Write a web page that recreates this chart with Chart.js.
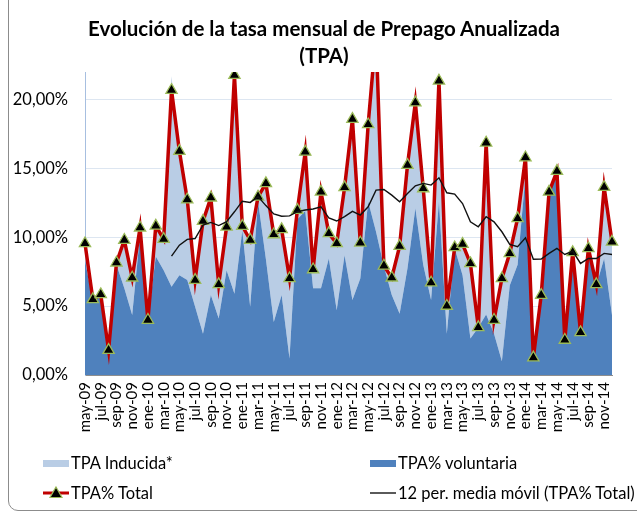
<!DOCTYPE html>
<html>
<head>
<meta charset="utf-8">
<script src="https://cdn.jsdelivr.net/npm/chart.js@4/dist/chart.umd.min.js"></script>
<style>
  html, body { margin:0; padding:0; background:#fff; }
  #wrap { position:relative; width:637px; height:516px; overflow:hidden; background:#fff; }
  #frame { position:absolute; left:8px; top:-20px; width:700px; height:531px; border:1px solid #8c8c8c; border-radius:10px; box-sizing:border-box; }
  #c { position:absolute; left:0; top:0; }
  #title { position:absolute; left:0; top:15px; width:648px; text-align:center; font-family:Lato, "Open Sans", sans-serif; font-weight:bold; font-size:20.5px; line-height:27px; color:#000; }
  .leg { position:absolute; font-family:Lato, "Open Sans", sans-serif; font-size:16.5px; color:#000; line-height:20px; white-space:nowrap; }
  .box { position:absolute; width:26px; height:7px; }
</style>
</head>
<body>
<div id="wrap">
  <div id="frame"></div>
  <canvas id="c" width="637" height="516"></canvas>
  <div id="title">Evolución de la tasa mensual de Prepago Anualizada<br>(TPA)</div>

  <div class="box" style="left:43px;top:460px;background:#B9CDE5;"></div>
  <div class="leg" style="left:71px;top:453px;">TPA Inducida*</div>
  <div class="box" style="left:370px;top:460px;background:#4F81BD;"></div>
  <div class="leg" style="left:398px;top:453px;">TPA% voluntaria</div>

  <svg style="position:absolute;left:41px;top:484px;" width="30" height="18">
    <line x1="2" y1="9" x2="28" y2="9" stroke="#C00000" stroke-width="3"/>
    <polygon points="15,3 21,13.5 9,13.5" fill="#000" stroke="#9BBB59" stroke-width="1.2"/>
  </svg>
  <div class="leg" style="left:71px;top:483px;">TPA% Total</div>
  <svg style="position:absolute;left:369px;top:484px;" width="28" height="18">
    <line x1="1" y1="9" x2="27" y2="9" stroke="#000" stroke-width="1.3"/>
  </svg>
  <div class="leg" style="left:398px;top:483px;">12 per. media móvil (TPA% Total)</div>
</div>
<script>
const categories = ["may-09","jun-09","jul-09","ago-09","sep-09","oct-09","nov-09","dic-09",
  "ene-10","feb-10","mar-10","abr-10","may-10","jun-10","jul-10","ago-10","sep-10","oct-10","nov-10","dic-10",
  "ene-11","feb-11","mar-11","abr-11","may-11","jun-11","jul-11","ago-11","sep-11","oct-11","nov-11","dic-11",
  "ene-12","feb-12","mar-12","abr-12","may-12","jun-12","jul-12","ago-12","sep-12","oct-12","nov-12","dic-12",
  "ene-13","feb-13","mar-13","abr-13","may-13","jun-13","jul-13","ago-13","sep-13","oct-13","nov-13","dic-13",
  "ene-14","feb-14","mar-14","abr-14","may-14","jun-14","jul-14","ago-14","sep-14","oct-14","nov-14","dic-14"];

const tpaTotal = [9.55,5.49,5.85,1.81,8.15,9.80,7.06,10.69,
  3.99,10.83,9.87,20.68,16.26,12.74,6.89,11.17,12.87,6.58,10.76,21.77,
  10.81,9.80,12.94,13.91,10.20,10.57,7.01,11.97,16.20,7.66,13.30,10.28,
  9.55,13.62,18.58,9.60,18.19,24.8,7.93,7.06,9.36,15.24,19.78,13.54,
  6.70,21.36,5.01,9.26,9.50,8.10,3.46,16.86,3.99,7.01,8.83,11.37,
  15.79,1.26,5.80,13.30,14.80,2.54,8.90,3.09,9.19,6.58,13.64,9.67];

const tpaVoluntaria = [8.3,5.4,5.7,1.8,8.0,6.3,4.35,10.2,
  3.95,8.6,7.6,6.4,7.25,6.9,4.95,3.0,5.8,4.1,7.6,5.9,
  10.5,4.95,12.6,8.4,3.85,5.8,1.2,11.3,11.9,6.3,6.3,8.45,
  4.7,8.7,5.45,7.0,12.6,10.4,7.9,5.8,4.45,7.75,12.1,8.0,
  5.45,12.6,3.0,9.2,7.25,2.65,3.45,4.4,3.0,1.0,6.5,8.0,
  14.5,1.25,5.8,13.2,14.7,2.5,8.9,3.05,9.1,6.5,8.45,4.35];

const tpaInducida = [1.25,0.1,0.15,0,0.15,3.5,2.7,0.5,
  0,2.2,2.3,15.3,9.0,5.85,1.95,8.15,7.05,2.5,3.15,15.9,
  0.3,4.85,0.35,5.5,6.35,4.75,5.8,0.65,4.3,1.35,7.0,1.85,
  4.85,4.9,13.55,2.6,5.6,14.4,0,1.25,4.9,7.5,8.7,5.55,
  1.25,9.4,2.0,0.05,2.25,5.45,0,12.45,1.0,6.0,2.35,3.35,
  1.3,0,0,0.1,0.1,0.05,0,0.05,0.1,0.1,5.2,5.3];

const mediaMovil = [null,null,null,null,null,null,null,null,null,null,null,
  8.63,9.43,9.85,9.91,10.88,11.08,10.85,11.13,11.85,
  12.62,12.53,12.95,12.30,11.70,11.53,11.55,11.86,11.98,12.05,12.21,11.40,
  11.18,11.50,11.88,11.61,12.21,13.42,13.47,13.06,12.58,13.18,13.74,13.91,
  13.79,14.32,13.23,13.13,12.45,11.12,10.76,11.49,11.12,10.40,9.48,9.31,
  9.96,8.40,8.42,8.83,9.19,8.75,9.00,8.10,8.46,8.46,8.83,8.75];

const yTicks = [0, 5, 10, 15, 20];

const FONT = 'Lato, "Open Sans", sans-serif';

new Chart(document.getElementById('c'), {
  type: 'line',
  data: {
    labels: categories,
    datasets: [
      { label: 'TPA% voluntaria', data: tpaVoluntaria, yAxisID: 'ya', order: 2,
        fill: 'origin', backgroundColor: '#4F81BD', borderWidth: 0, pointRadius: 0, tension: 0 },
      { label: 'TPA Inducida*', data: tpaInducida, yAxisID: 'ya', order: 3,
        fill: '-1', backgroundColor: '#B9CDE5', borderWidth: 0, pointRadius: 0, tension: 0 },
      { label: 'TPA% Total', data: tpaTotal, yAxisID: 'y', order: 1,
        fill: false, borderColor: '#C00000', borderWidth: 3.5, tension: 0,
        pointStyle: 'triangle', pointRadius: 6.5, pointBackgroundColor: '#000',
        pointBorderColor: '#9BBB59', pointBorderWidth: 1.3 },
      { label: '12 per. media móvil (TPA% Total)', data: mediaMovil, yAxisID: 'y', order: 0,
        fill: false, borderColor: '#111', borderWidth: 1.4, pointRadius: 0, tension: 0, spanGaps: false }
    ]
  },
  options: {
    responsive: false,
    animation: false,
    devicePixelRatio: 1,
    layout: { padding: { left: 0, right: 18, top: 72, bottom: 0 } },
    plugins: { legend: { display: false }, title: { display: false }, tooltip: { enabled: false } },
    scales: {
      x: {
        offset: false,
        grid: { display: false, drawTicks: false },
        border: { display: true, color: '#8E8E8E', width: 1 },
        ticks: {
          autoSkip: false, maxRotation: 90, minRotation: 90, padding: 7,
          color: '#000', font: { family: FONT, size: 15 },
          callback: function (v, i) { return i % 2 === 0 ? this.getLabelForValue(v) : ''; }
        },
        afterFit: s => { s.height = 141; }
      },
      y: {
        position: 'left', min: 0, max: 22,
        afterBuildTicks: s => { s.ticks = yTicks.map(v => ({ value: v })); },
        ticks: {
          padding: 17, color: '#000', font: { family: FONT, size: 16.5 },
          callback: v => v.toFixed(2).replace('.', ',') + '%'
        },
        grid: { drawTicks: false, color: c => c.tick && c.tick.value === 0 ? 'rgba(0,0,0,0)' : '#DDE6F1', lineWidth: 1 },
        border: { display: true, color: '#A7BFE0', width: 1 },
        afterFit: s => { s.width = 85; }
      },
      ya: { display: false, stacked: true, min: 0, max: 22 }
    }
  }
});
</script>
</body>
</html>
